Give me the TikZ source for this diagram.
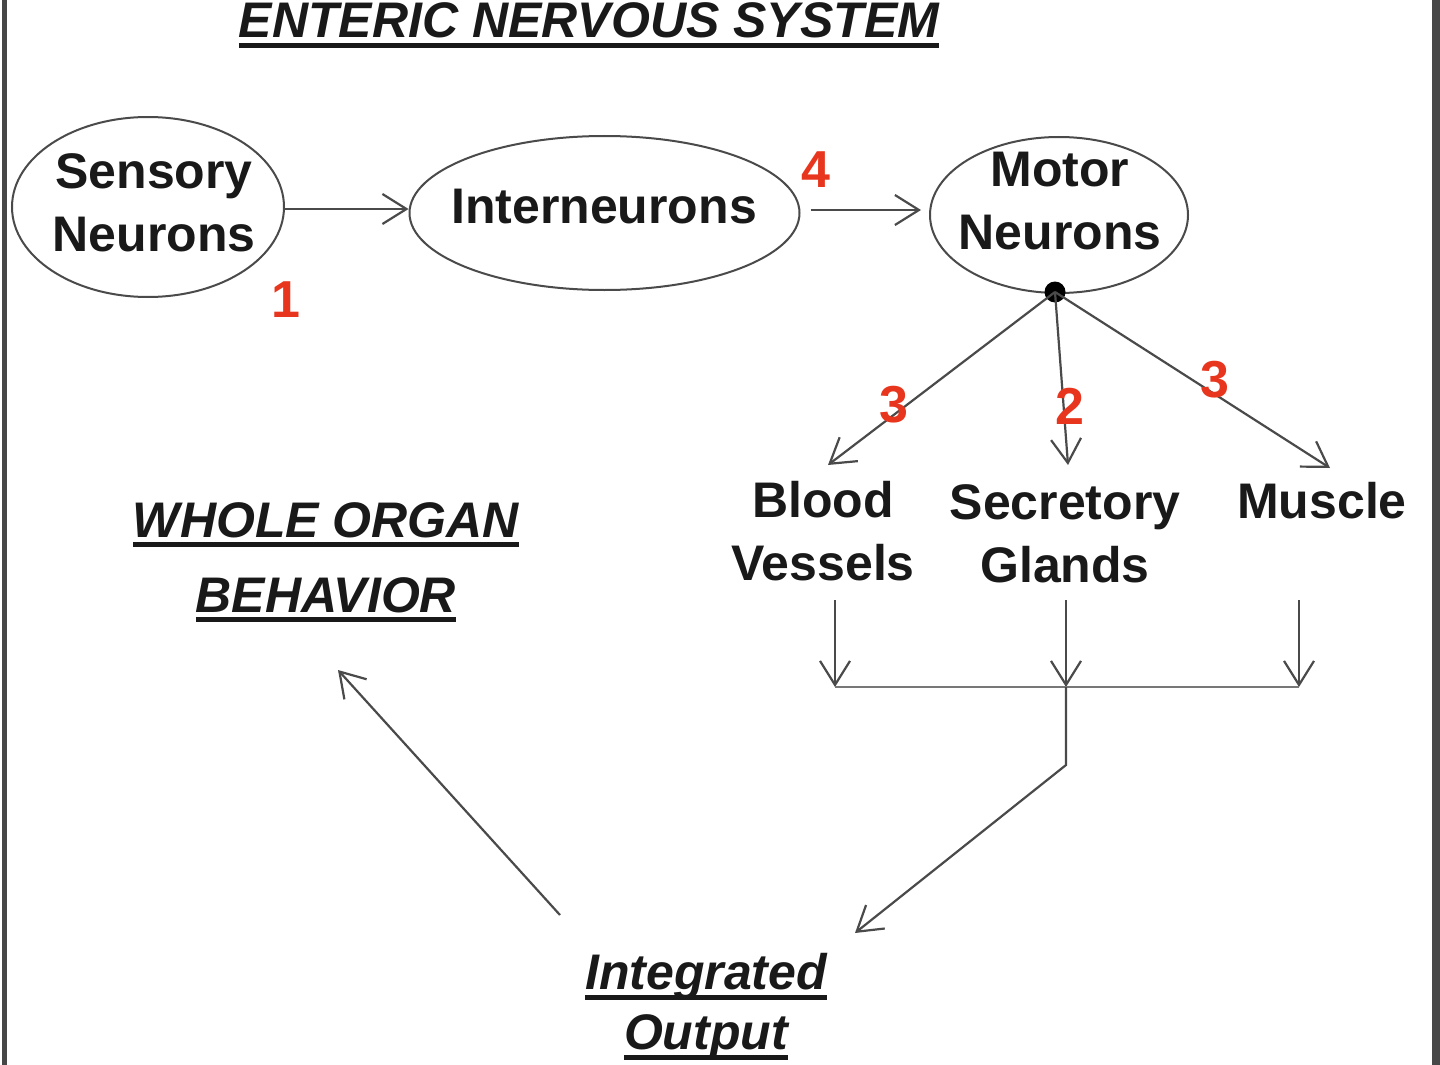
\documentclass[tikz,border=0pt]{standalone}
\usepackage{fontspec}
\setmainfont{Liberation Sans}
\usetikzlibrary{arrows.meta,shapes.geometric}
\definecolor{numred}{HTML}{E8361E}
\definecolor{linegray}{HTML}{4A4A4A}
\definecolor{bordergray}{HTML}{474747}
\newbox\myulbox
\newcommand\ulx[1]{\setbox\myulbox=\hbox{#1}\rlap{\smash{\rule[-5pt]{\wd\myulbox}{2.4pt}}}\box\myulbox}
\tikzset{
  oval/.style={ellipse, draw=linegray, line width=1pt, inner sep=0pt},
  lbl/.style={font=\fontsize{25}{31.5}\selectfont\bfseries, text=black!90, align=center, inner sep=0pt},
  hdr/.style={font=\fontsize{25}{31}\selectfont\bfseries\itshape, text=black!90, align=center, inner sep=0pt},
  num/.style={font=\fontsize{26}{30}\selectfont\bfseries, text=numred, inner sep=0pt},
  arr/.style={draw=linegray, line width=1.1pt, -{Straight Barb[length=12pt,width=15pt,line width=1.1pt]}},
  plain/.style={draw=linegray, line width=1.1pt},
}
\begin{document}
\begin{tikzpicture}[x=0.5pt,y=-0.5pt]
\useasboundingbox (0,0) rectangle (1440,1065);
% side borders
\draw[bordergray, line width=2.6pt] (4.5,0) -- (4.5,1065);
\draw[bordergray, line width=3.6pt] (1436,0) -- (1436,1065);

% title
\node[hdr, anchor=base] (title) at (589,38) {\ulx{ENTERIC NERVOUS SYSTEM}};

% ellipses
\node[oval, minimum width=136pt, minimum height=90pt] (sens) at (148,207) {};
\node[oval, minimum width=195pt, minimum height=77pt] (inter) at (604.5,213) {};
\node[oval, minimum width=129pt, minimum height=78pt] (motor) at (1059,215) {};

\node[lbl] (sensT) at (154,203) {Sensory\\Neurons};
\node[lbl, anchor=base] (interT) at (604,223) {Interneurons};
\node[lbl] (motorT) at (1060,201) {Motor\\Neurons};

% junction dot
\node[circle, fill=black, minimum size=10.5pt, inner sep=0pt] (dot) at (1055,292) {};

% effectors
\node[lbl] (blood) at (823,531) {Blood\\Vessels};
\node[lbl] (glands) at (1065,533.5) {Secretory\\Glands};
\node[lbl, anchor=base] (muscle) at (1322,518) {Muscle};

% outputs
\node[hdr, font=\fontsize{25}{37.5}\selectfont\bfseries\itshape] (whole) at (326,557.5) {\ulx{WHOLE ORGAN}\\\ulx{BEHAVIOR}};
\node[hdr, font=\fontsize{25}{30}\selectfont\bfseries\itshape] (integ) at (706,1007) {\ulx{Integrated}\\\ulx{Output}};

% coordinates for connector ends
\coordinate (bv) at (828,465);
\coordinate (sg) at (1068,465);
\coordinate (mu) at (1330,468);
\coordinate (tl) at (835,600);
\coordinate (tm) at (1066,600);
\coordinate (tr) at (1299,600);
\coordinate (jl) at (835,687);
\coordinate (jm) at (1066,687);
\coordinate (jr) at (1299,687);
\coordinate (bend) at (1066,765);
\coordinate (io) at (855,933);
\coordinate (wo) at (338,670);
\coordinate (is) at (560,915);

% connectors
\draw[arr] (sens.east |- 0,209) -- (inter.west |- 0,209);
\draw[arr] ([xshift=5pt]inter.east |- 0,210) -- ([xshift=-4pt]motor.west |- 0,210);
\draw[arr] (dot.center) -- (bv);
\draw[arr] (dot.center) -- (sg);
\draw[arr] (dot.center) -- (mu);
\draw[arr] (tl) -- (jl);
\draw[arr] (tm) -- (jm);
\draw[arr] (tr) -- (jr);
\draw[plain, draw=linegray!75] (jl) -- (jr);
\draw[arr] (jm) -- (bend) -- (io);
\draw[arr] (is) -- (wo);

% red numbers
\node[num] (n1) at (286,300) {1};
\node[num] (n4) at (816,170) {4};
\node[num] (n3a) at (894,405) {3};
\node[num] (n2) at (1070,406) {2};
\node[num] (n3b) at (1215,380) {3};
\end{tikzpicture}
\end{document}
